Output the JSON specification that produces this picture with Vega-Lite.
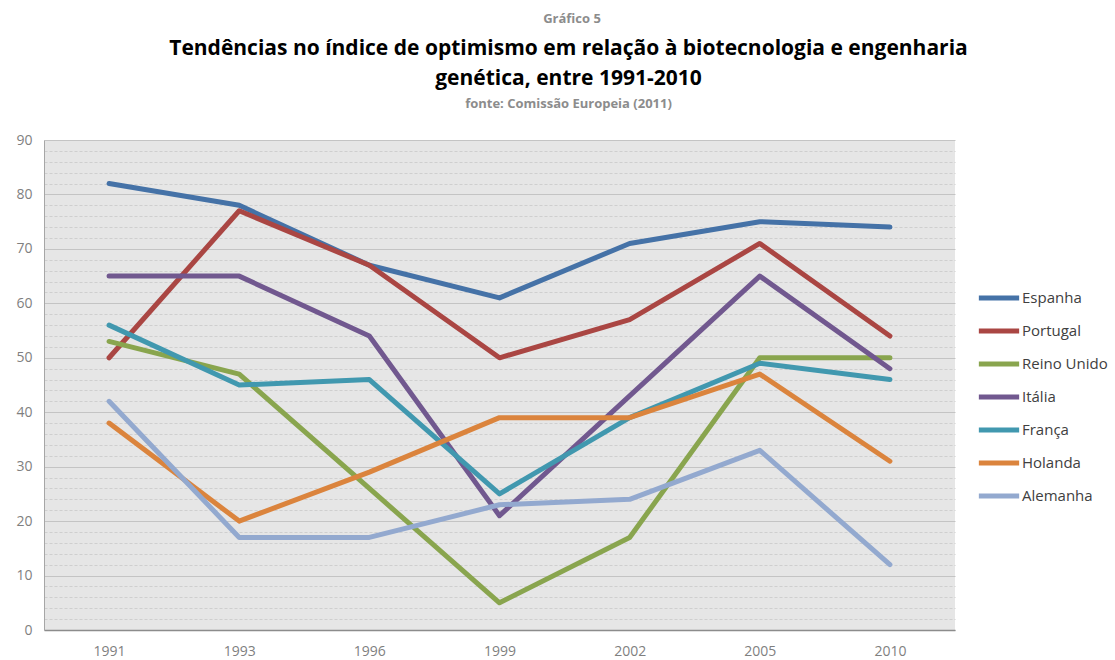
{
  "$schema": "https://vega.github.io/schema/vega-lite/v6.json",
  "background": "white",
  "padding": {"left": 15, "top": 13, "right": 5, "bottom": 0},
  "title": {"text": "Gráfico 5", "font": "Open Sans", "fontSize": 13, "fontWeight": "bold", "color": "#8c8c8c", "anchor": "middle", "frame": "bounds", "offset": 12, "dx": 10},
  "vconcat": [
    {
      "width": 911,
      "height": 490,
      "title": {
        "text": ["Tendências no índice de optimismo em relação à biotecnologia e engenharia", "genética, entre 1991-2010"],
        "subtitle": "fonte: Comissão Europeia (2011)",
        "font": "Open Sans", "fontSize": 21, "fontWeight": "bold", "color": "#000000", "lineHeight": 30,
        "subtitleFont": "Open Sans", "subtitleFontSize": 13, "subtitleFontWeight": "bold", "subtitleColor": "#8c8c8c", "subtitlePadding": 9,
        "anchor": "middle", "frame": "bounds", "offset": 22, "dx": 83
      },
      "data": {"values": [
        {"year": "1991", "country": "Espanha", "value": 82},
        {"year": "1993", "country": "Espanha", "value": 78},
        {"year": "1996", "country": "Espanha", "value": 67},
        {"year": "1999", "country": "Espanha", "value": 61},
        {"year": "2002", "country": "Espanha", "value": 71},
        {"year": "2005", "country": "Espanha", "value": 75},
        {"year": "2010", "country": "Espanha", "value": 74},
        {"year": "1991", "country": "Portugal", "value": 50},
        {"year": "1993", "country": "Portugal", "value": 77},
        {"year": "1996", "country": "Portugal", "value": 67},
        {"year": "1999", "country": "Portugal", "value": 50},
        {"year": "2002", "country": "Portugal", "value": 57},
        {"year": "2005", "country": "Portugal", "value": 71},
        {"year": "2010", "country": "Portugal", "value": 54},
        {"year": "1991", "country": "Reino Unido", "value": 53},
        {"year": "1993", "country": "Reino Unido", "value": 47},
        {"year": "1996", "country": "Reino Unido", "value": 26},
        {"year": "1999", "country": "Reino Unido", "value": 5},
        {"year": "2002", "country": "Reino Unido", "value": 17},
        {"year": "2005", "country": "Reino Unido", "value": 50},
        {"year": "2010", "country": "Reino Unido", "value": 50},
        {"year": "1991", "country": "Itália", "value": 65},
        {"year": "1993", "country": "Itália", "value": 65},
        {"year": "1996", "country": "Itália", "value": 54},
        {"year": "1999", "country": "Itália", "value": 21},
        {"year": "2002", "country": "Itália", "value": 43},
        {"year": "2005", "country": "Itália", "value": 65},
        {"year": "2010", "country": "Itália", "value": 48},
        {"year": "1991", "country": "França", "value": 56},
        {"year": "1993", "country": "França", "value": 45},
        {"year": "1996", "country": "França", "value": 46},
        {"year": "1999", "country": "França", "value": 25},
        {"year": "2002", "country": "França", "value": 39},
        {"year": "2005", "country": "França", "value": 49},
        {"year": "2010", "country": "França", "value": 46},
        {"year": "1991", "country": "Holanda", "value": 38},
        {"year": "1993", "country": "Holanda", "value": 20},
        {"year": "1996", "country": "Holanda", "value": 29},
        {"year": "1999", "country": "Holanda", "value": 39},
        {"year": "2002", "country": "Holanda", "value": 39},
        {"year": "2005", "country": "Holanda", "value": 47},
        {"year": "2010", "country": "Holanda", "value": 31},
        {"year": "1991", "country": "Alemanha", "value": 42},
        {"year": "1993", "country": "Alemanha", "value": 17},
        {"year": "1996", "country": "Alemanha", "value": 17},
        {"year": "1999", "country": "Alemanha", "value": 23},
        {"year": "2002", "country": "Alemanha", "value": 24},
        {"year": "2005", "country": "Alemanha", "value": 33},
        {"year": "2010", "country": "Alemanha", "value": 12}
      ]},
      "mark": {"type": "line", "strokeWidth": 5, "strokeCap": "round", "strokeJoin": "round"},
      "encoding": {
        "x": {
          "field": "year", "type": "ordinal",
          "scale": {"type": "point", "padding": 0.5},
          "axis": {"title": null, "labelAngle": 0, "ticks": false, "grid": false, "domainColor": "#8c8c8c", "domainWidth": 1.5, "labelPadding": 14, "labelFont": "Open Sans", "labelFontSize": 14, "labelColor": "#7f7f7f"}
        },
        "y": {
          "field": "value", "type": "quantitative",
          "scale": {"domain": [0, 90], "nice": false},
          "axis": {
            "title": null,
            "values": [0, 2, 4, 6, 8, 10, 12, 14, 16, 18, 20, 22, 24, 26, 28, 30, 32, 34, 36, 38, 40, 42, 44, 46, 48, 50, 52, 54, 56, 58, 60, 62, 64, 66, 68, 70, 72, 74, 76, 78, 80, 82, 84, 86, 88, 90],
            "labelExpr": "datum.value % 10 === 0 ? datum.label : ''",
            "ticks": false,
            "labelPadding": 12,
            "labelFont": "Open Sans", "labelFontSize": 14, "labelColor": "#7f7f7f",
            "domainColor": "#a6a6a6",
            "grid": true,
            "gridColor": {"condition": {"test": "datum.value % 10 === 0", "value": "#c4c4c4"}, "value": "#cfcfcf"},
            "gridDash": {"condition": {"test": "datum.value % 10 === 0", "value": []}, "value": [3, 2]},
            "gridWidth": 1
          }
        },
        "color": {
          "field": "country", "type": "nominal",
          "scale": {
            "domain": ["Espanha", "Portugal", "Reino Unido", "Itália", "França", "Holanda", "Alemanha"],
            "range": ["#4572A7", "#AA4643", "#89A54E", "#71588F", "#4198AF", "#DB843D", "#93A9CF"]
          },
          "legend": {
            "title": null, "orient": "none", "legendX": 937, "legendY": 140,
            "symbolType": "M-1.3,0H1.3", "symbolSize": 961, "symbolStrokeWidth": 5,
            "labelOffset": 5, "rowPadding": 5, "padding": 0,
            "labelFont": "Open Sans", "labelFontSize": 15, "labelColor": "#404040"
          }
        }
      }
    }
  ],
  "config": {
    "view": {"fill": "#e6e6e6", "stroke": null},
    "concat": {"spacing": 0}
  }
}
